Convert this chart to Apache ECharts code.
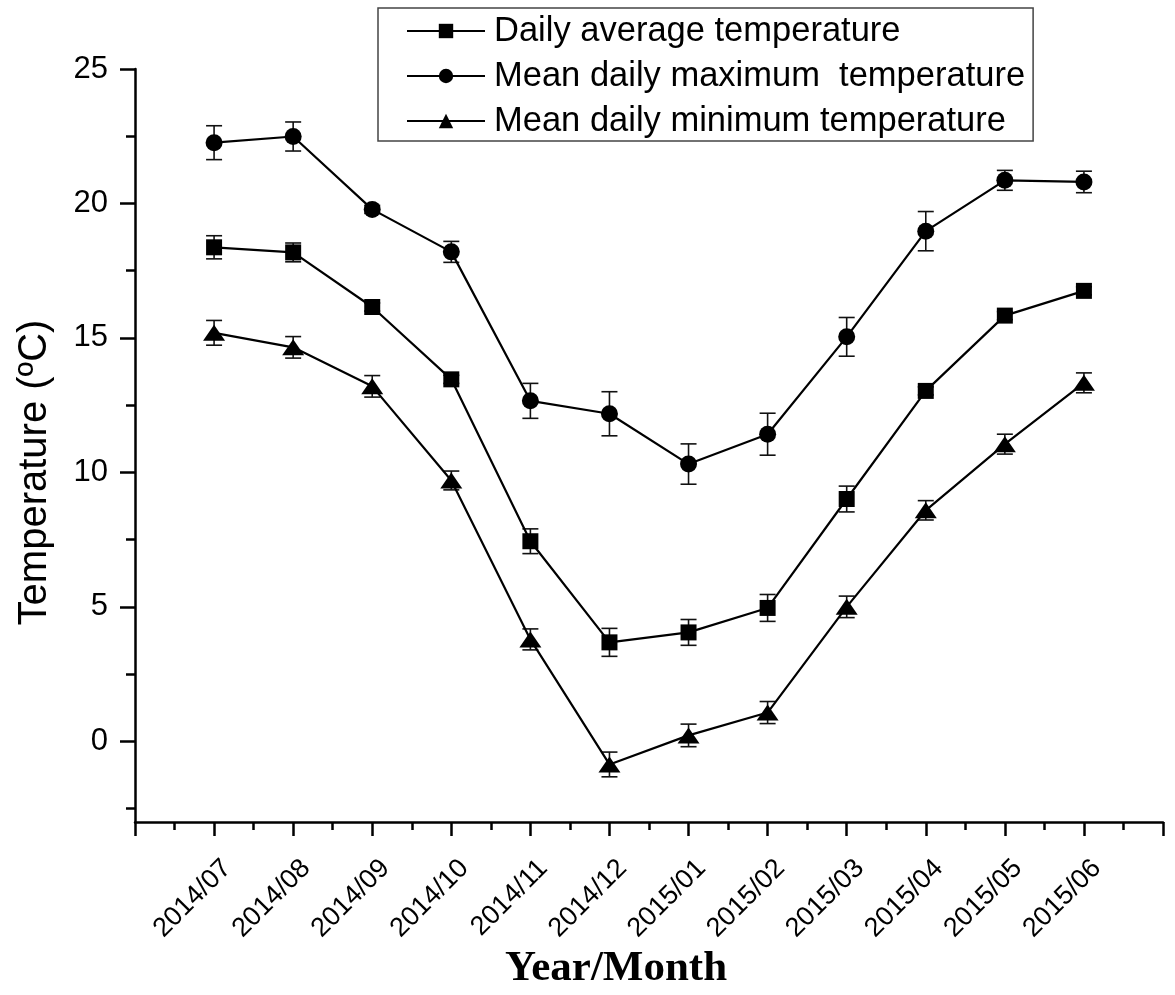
<!DOCTYPE html>
<html>
<head>
<meta charset="utf-8">
<script src="https://cdn.jsdelivr.net/npm/echarts@6/dist/echarts.min.js"></script>
<style>
html,body{margin:0;padding:0;background:#fff;}
#chart{width:1175px;height:995px;}
</style>
</head>
<body>
<div id="chart"></div>
<script>
var months = ['2014/07','2014/08','2014/09','2014/10','2014/11','2014/12','2015/01','2015/02','2015/03','2015/04','2015/05','2015/06'];
var avgTemp = [18.37, 18.18, 16.15, 13.46, 7.44, 3.68, 4.05, 4.96, 9.01, 13.03, 15.83, 16.75];
var avgErr  = [0.43, 0.35, 0.15, 0.15, 0.46, 0.52, 0.48, 0.50, 0.48, 0.15, 0.15, 0.15];
var maxTemp = [22.26, 22.49, 19.78, 18.20, 12.66, 12.18, 10.31, 11.42, 15.04, 18.97, 20.86, 20.80];
var maxErr  = [0.63, 0.54, 0.15, 0.39, 0.65, 0.82, 0.75, 0.78, 0.72, 0.73, 0.37, 0.40];
var minTemp = [15.19, 14.65, 13.20, 9.70, 3.79, -0.86, 0.22, 1.07, 5.00, 8.59, 11.05, 13.33];
var minErr  = [0.46, 0.40, 0.40, 0.35, 0.39, 0.46, 0.42, 0.41, 0.40, 0.36, 0.37, 0.37];
var yMajorTicks = [0, 5, 10, 15, 20, 25];
var yMinorTicks = [-2.5, 2.5, 7.5, 12.5, 17.5, 22.5];
var seriesNames = ['Daily average temperature', 'Mean daily maximum  temperature', 'Mean daily minimum temperature'];

var FONT = "'Liberation Sans', Arial, sans-serif";

function points(vals){ return vals.map(function(v,i){ return [i+1, v]; }); }
function errs(vals, e){ return vals.map(function(v,i){ return [i+1, v - e[i], v + e[i]]; }); }

function renderErr(params, api){
  var x = api.value(0), lo = api.value(1), hi = api.value(2);
  var pLo = api.coord([x, lo]), pHi = api.coord([x, hi]);
  var hw = 8;
  var st = {stroke:'#111', lineWidth:1.6, fill:null};
  return {type:'group', children:[
    {type:'line', shape:{x1:pHi[0], y1:pHi[1], x2:pLo[0], y2:pLo[1]}, style:st},
    {type:'line', shape:{x1:pHi[0]-hw, y1:pHi[1], x2:pHi[0]+hw, y2:pHi[1]}, style:st},
    {type:'line', shape:{x1:pLo[0]-hw, y1:pLo[1], x2:pLo[0]+hw, y2:pLo[1]}, style:st}
  ]};
}

function lineSeries(name, vals, symbol, size){
  return {
    name:name, type:'line', xAxisIndex:0, yAxisIndex:0,
    data:points(vals), symbol:symbol, symbolSize:size, showSymbol:true,
    lineStyle:{color:'#000', width:2.2}, itemStyle:{color:'#000'}, z:3
  };
}
function errSeries(vals, e){
  return {type:'custom', xAxisIndex:0, yAxisIndex:0, data:errs(vals, e),
    encode:{x:0, y:[1,2]}, renderItem:renderErr, z:2, silent:true};
}

var chart = echarts.init(document.getElementById('chart'), null, {renderer:'canvas'});
chart.setOption({
  animation:false,
  backgroundColor:'#fff',
  grid:{left:135, right:12, top:69, bottom:168, containLabel:false},
  legend:{
    orient:'vertical', left:378, top:8,
    data:seriesNames,
    itemWidth:78, itemHeight:18, itemGap:9,
    padding:[5, 8, 2, 28],
    borderColor:'#444', borderWidth:1.5,
    textStyle:{fontFamily:FONT, fontSize:34.5, lineHeight:36, color:'#000', padding:[0,0,0,4]}
  },
  xAxis:[
    {type:'value', min:0, max:13, interval:1, position:'bottom',
     axisLine:{show:true, onZero:false, lineStyle:{color:'#000', width:2.5}},
     axisTick:{show:true, inside:false, length:14, lineStyle:{color:'#000', width:2.5}},
     minorTick:{show:true, splitNumber:2, length:8, lineStyle:{color:'#000', width:2.5}},
     axisLabel:{show:false}, splitLine:{show:false}, minorSplitLine:{show:false},
     name:'Year/Month', nameLocation:'middle', nameGap:125,
     nameTextStyle:{fontFamily:"'Liberation Serif', 'Times New Roman', serif", fontWeight:'bold', fontSize:43, color:'#000', padding:[0,66,0,0]}
    },
    {type:'value', min:-0.165, max:12.835, position:'bottom',
     axisLine:{show:false, onZero:false}, axisTick:{show:false}, splitLine:{show:false},
     axisLabel:{show:true, customValues:[1,2,3,4,5,6,7,8,9,10,11,12], rotate:45, margin:42,
       fontFamily:FONT, fontSize:27, color:'#000',
       formatter:function(v){ var i = Math.round(v) - 1; return months[i] || ''; }}
    }
  ],
  yAxis:[
    {type:'value', min:-3, max:25, position:'left',
     axisLine:{show:true, onZero:false, lineStyle:{color:'#000', width:2.5}},
     axisTick:{show:true, customValues:yMajorTicks, length:15, lineStyle:{color:'#000', width:2.5}},
     axisLabel:{show:true, customValues:yMajorTicks, margin:27, fontFamily:FONT, fontSize:31, color:'#000'},
     splitLine:{show:false},
     name:'Temperature (\u00BAC)', nameLocation:'middle', nameGap:80, nameRotate:90,
     nameTextStyle:{fontFamily:FONT, fontSize:40, color:'#000', padding:[0,54,0,0]}
    },
    {type:'value', min:-3, max:25, position:'left',
     axisLine:{show:false, onZero:false},
     axisTick:{show:true, customValues:yMinorTicks, length:9, lineStyle:{color:'#000', width:2.5}},
     axisLabel:{show:false}, splitLine:{show:false}
    }
  ],
  series:[
    errSeries(avgTemp, avgErr),
    errSeries(maxTemp, maxErr),
    errSeries(minTemp, minErr),
    lineSeries(seriesNames[0], avgTemp, 'rect', 16),
    lineSeries(seriesNames[1], maxTemp, 'circle', 17),
    lineSeries(seriesNames[2], minTemp, 'triangle', [22,16])
  ]
});
</script>
</body>
</html>
